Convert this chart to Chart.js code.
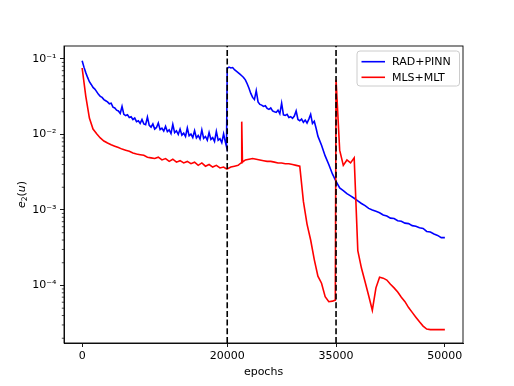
<!DOCTYPE html>
<html>
<head>
<meta charset="utf-8">
<script src="https://cdn.jsdelivr.net/npm/chart.js@4"></script>
<style>
  html, body { margin: 0; padding: 0; background: #fff; }
  canvas { display: block; }
</style>
</head>
<body>
<canvas id="error-chart" width="514" height="386"></canvas>
<script>
// RAD+PINN is logged more often (it is noisier)
const radEpochs = [
    0, 250, 500, 750, 1000, 1250, 1500, 1750, 2000, 2250, 2500, 2750, 3000, 3250, 3500, 3750, 4000, 4250, 4500, 4750,
    5000, 5250, 5500, 5750, 6000, 6250, 6500, 6750, 7000, 7250, 7500, 7750, 8000, 8250, 8500, 8750, 9000, 9250, 9500, 9750,
    10000, 10250, 10500, 10750, 11000, 11250, 11500, 11750, 12000, 12250, 12500, 12750, 13000, 13250, 13500, 13750, 14000, 14250, 14500, 14750,
    15000, 15250, 15500, 15750, 16000, 16250, 16500, 16750, 17000, 17250, 17500, 17750, 18000, 18250, 18500, 18750, 19000, 19250, 19500, 19750,
    19900,
    20000, 20250, 20500, 20750, 21000, 21250, 21500, 21750, 22000, 22250, 22500, 22750, 23000, 23250, 23500, 23750, 24000, 24250, 24500, 24750,
    25000, 25250, 25500, 25750, 26000, 26250, 26500, 26750, 27000, 27250, 27500, 27750, 28000, 28250, 28500, 28750, 29000, 29250, 29500, 29750,
    30000, 30250, 30500, 30750, 31000, 31250, 31500, 31750, 32000, 32250, 32500,
    33000, 33500, 34000, 34500, 34900,
    35000, 35500, 36000, 36500, 37000, 37500, 38000, 38500, 39000, 39500,
    40000, 40500, 41000, 41500, 42000, 42500, 43000, 43500, 44000, 44500,
    45000, 45500, 46000, 46500, 47000, 47500, 48000, 48500, 49000, 49500,
    50000
];

const radPinn = [
    0.095, 0.078, 0.066, 0.057, 0.050, 0.046, 0.042, 0.040, 0.037, 0.034, 0.032, 0.031, 0.029, 0.028, 0.027, 0.0255, 0.026, 0.023, 0.0225, 0.021,
    0.0205, 0.019, 0.0235, 0.0185, 0.0178, 0.0182, 0.0168, 0.0172, 0.0158, 0.0165, 0.0148, 0.0152, 0.0140, 0.0158, 0.0138, 0.0135, 0.0170, 0.0132, 0.0125, 0.0138,
    0.0118, 0.0124, 0.0142, 0.0116, 0.0121, 0.0111, 0.0128, 0.0109, 0.0115, 0.0103, 0.0136, 0.0106, 0.0112, 0.0100, 0.0118, 0.0098, 0.0104, 0.0094, 0.0122, 0.0096,
    0.0101, 0.0091, 0.0112, 0.0090, 0.0097, 0.0087, 0.0115, 0.0089, 0.0094, 0.0084, 0.0106, 0.0086, 0.0091, 0.0081, 0.0110, 0.0084, 0.0088, 0.0078, 0.0102, 0.0079,
    0.0069,
    0.075, 0.078, 0.076, 0.077, 0.072, 0.069, 0.066, 0.063, 0.060, 0.057, 0.053, 0.047, 0.041, 0.035, 0.031, 0.029, 0.038, 0.027, 0.025, 0.0245,
    0.0235, 0.024, 0.0222, 0.0215, 0.0225, 0.0205, 0.020, 0.0196, 0.021, 0.0188, 0.026, 0.0182, 0.0179, 0.0185, 0.0168, 0.0172, 0.0164, 0.0175, 0.0205, 0.0158,
    0.0152, 0.0160, 0.0145, 0.0155, 0.0142, 0.0160, 0.0185, 0.0140, 0.0150, 0.0121, 0.0095,
    0.0072, 0.0052, 0.0040, 0.0030, 0.0025,
    0.0024, 0.00196, 0.00181, 0.00165, 0.00154, 0.00143, 0.00132, 0.00122, 0.00114, 0.00105,
    0.00100, 0.00096, 0.00092, 0.00086, 0.00083, 0.00078, 0.00077, 0.00072, 0.00071, 0.00067,
    0.00066, 0.00062, 0.00061, 0.00058, 0.00057, 0.00052, 0.00051, 0.00048, 0.00046, 0.00043,
    0.00043
];

const mlsEpochs = [
    0, 500, 1000, 1500, 2000, 2500, 3000, 3500, 4000, 4500,
    5000, 5500, 6000, 6500, 7000, 7500, 8000, 8500, 9000, 9500,
    10000, 10500, 11000, 11500, 12000, 12500, 13000, 13500, 14000, 14500,
    15000, 15500, 16000, 16500, 17000, 17500, 18000, 18500, 19000, 19500,
    19900, 20000, 20500, 21000, 21500, 21900, 22000, 22100,
    22500, 23000, 23500, 24000, 24500, 25000, 25500, 26000, 26500, 27000,
    27500, 28000, 28500, 29000, 29500, 30000, 30500, 31000, 31500, 32000,
    32500, 33000, 33500, 34000, 34500, 34900,
    35000, 35500, 36000, 36500, 37000, 37500, 38000, 38500, 39000, 39500,
    40000, 40500, 41000, 41500, 42000, 42500, 43000, 43500, 44000, 44500,
    45000, 45500, 46000, 46500, 47000, 47500, 48000, 48500, 49000, 49500,
    50000
];

const mlsMlt = [
    0.076, 0.0323, 0.0165, 0.0118, 0.0102, 0.0090, 0.0082, 0.0077, 0.0073, 0.0070,
    0.0067, 0.0064, 0.0062, 0.0060, 0.0057, 0.0055, 0.0054, 0.0053, 0.0050, 0.0049,
    0.0048, 0.0050, 0.0046, 0.0048, 0.0044, 0.0047, 0.0043, 0.0045, 0.0042, 0.0044,
    0.0041, 0.0043, 0.0039, 0.0042, 0.0038, 0.0040, 0.0037, 0.0039, 0.0036, 0.0037,
    0.0035, 0.0035, 0.0037, 0.0038, 0.0039, 0.0042, 0.0148, 0.0043,
    0.0046, 0.0047, 0.0048, 0.0047, 0.0046, 0.0045, 0.0044, 0.0044, 0.0043, 0.0042,
    0.0042, 0.0041, 0.0041, 0.0040, 0.0039, 0.0038, 0.0013, 0.00065, 0.00040, 0.00022,
    0.000133, 0.000107, 0.000071, 0.000061, 0.000062, 0.000064,
    0.053, 0.0062, 0.0039, 0.0046, 0.0042, 0.0049, 0.00029, 0.00017, 0.000112, 0.000073,
    0.000047, 0.000093, 0.000129, 0.000125, 0.000118, 0.000104, 0.000093, 0.000082, 0.000070, 0.000061,
    0.000051, 0.000044, 0.000038, 0.000033, 0.000029, 0.0000265, 0.000026, 0.000026, 0.000026, 0.000026,
    0.000026
];

const seriesLabels = ['RAD+PINN', 'MLS+MLT'];
const xTicks = [0, 20000, 35000, 50000];
const stageBreaks = [20000, 35000];
const yDecades = [-5, -4, -3, -2, -1];

const xMin = -2500, xMax = 52500;
const yMin = 1.73e-5, yMax = 0.1486;

Chart.defaults.font.family = 'DejaVu Sans';
Chart.defaults.font.size = 11;
Chart.defaults.color = '#000';

const supDigits = { '-': '\u207B', '0': '\u2070', '1': '\u00B9', '2': '\u00B2', '3': '\u00B3', '4': '\u2074', '5': '\u2075' };
function powerLabel(v) {
    const e = String(Math.round(Math.log10(v)));
    return '10' + e.split('').map(c => supDigits[c]).join('');
}

function toPoints(xs, values) {
    return values.map((v, i) => ({ x: xs[i], y: v }));
}

const vlineSets = stageBreaks.map(b => ({
    data: [{ x: b, y: yMin }, { x: b, y: yMax }],
    borderColor: '#000',
    borderWidth: 1.6,
    borderDash: [6, 2.7],
    pointRadius: 0,
    order: 1
}));

// axis frame, minor ticks, axis titles and legend
const decorations = {
    id: 'decorations',
    afterDraw(chart) {
        const { ctx, chartArea: a, scales } = chart;
        ctx.save();

        ctx.strokeStyle = '#000';
        ctx.lineWidth = 0.9;
        ctx.strokeRect(a.left, a.top, a.right - a.left, a.bottom - a.top);

        ctx.lineWidth = 0.7;
        yDecades.forEach(e => {
            for (let m = 2; m <= 9; m++) {
                const v = m * Math.pow(10, e);
                if (v < yMin || v > yMax) continue;
                const py = scales.y.getPixelForValue(v);
                ctx.beginPath();
                ctx.moveTo(a.left, py);
                ctx.lineTo(a.left - 2.2, py);
                ctx.stroke();
            }
        });

        ctx.fillStyle = '#000';
        ctx.font = '11px "DejaVu Sans"';
        ctx.textAlign = 'center';
        ctx.textBaseline = 'alphabetic';
        ctx.fillText('epochs', (a.left + a.right) / 2, 374.5);

        // e_2(u), rotated
        ctx.save();
        ctx.translate(24.5, (a.top + a.bottom) / 2);
        ctx.rotate(-Math.PI / 2);
        ctx.textAlign = 'left';
        const parts = [
            { t: 'e', f: 'italic 11px "DejaVu Sans"', dy: 0 },
            { t: '2', f: '7.7px "DejaVu Sans"', dy: 2.2 },
            { t: '(', f: '11px "DejaVu Sans"', dy: 0 },
            { t: 'u', f: 'italic 11px "DejaVu Sans"', dy: 0 },
            { t: ')', f: '11px "DejaVu Sans"', dy: 0 }
        ];
        let total = 0;
        parts.forEach(p => { ctx.font = p.f; p.w = ctx.measureText(p.t).width; total += p.w; });
        let px = -total / 2;
        parts.forEach(p => {
            ctx.font = p.f;
            ctx.fillText(p.t, px, p.dy);
            px += p.w;
        });
        ctx.restore();

        // legend
        const lx = 357, ly = 51, lw = 102.5, lh = 35;
        ctx.beginPath();
        ctx.roundRect(lx, ly, lw, lh, 3);
        ctx.fillStyle = 'rgba(255,255,255,0.8)';
        ctx.fill();
        ctx.strokeStyle = '#cccccc';
        ctx.lineWidth = 1;
        ctx.stroke();

        ctx.font = '11px "DejaVu Sans"';
        ctx.textAlign = 'left';
        ctx.textBaseline = 'middle';
        const rows = [61.7, 77.3];
        seriesLabels.forEach((label, i) => {
            const ds = chart.data.datasets.find(d => d.label === label);
            ctx.strokeStyle = ds.borderColor;
            ctx.lineWidth = 1.6;
            ctx.beginPath();
            ctx.moveTo(361.5, rows[i]);
            ctx.lineTo(385, rows[i]);
            ctx.stroke();
            ctx.fillStyle = '#000';
            ctx.fillText(label, 392, rows[i] + 0.5);
        });

        ctx.restore();
    }
};

new Chart(document.getElementById('error-chart').getContext('2d'), {
    type: 'line',
    data: {
        datasets: [
            {
                label: seriesLabels[0],
                data: toPoints(radEpochs, radPinn),
                borderColor: '#0000ff',
                borderWidth: 1.6,
                pointRadius: 0,
                order: 3
            },
            {
                label: seriesLabels[1],
                data: toPoints(mlsEpochs, mlsMlt),
                borderColor: '#ff0000',
                borderWidth: 1.6,
                pointRadius: 0,
                order: 2
            },
            ...vlineSets
        ]
    },
    options: {
        responsive: false,
        animation: false,
        layout: { padding: { left: 0, right: 51, top: 46, bottom: 0 } },
        plugins: {
            legend: { display: false },
            tooltip: { enabled: false }
        },
        scales: {
            x: {
                type: 'linear',
                min: xMin,
                max: xMax,
                afterBuildTicks: scale => { scale.ticks = xTicks.map(v => ({ value: v })); },
                afterFit: scale => { scale.height = 43; },
                ticks: {
                    autoSkip: false,
                    maxRotation: 0,
                    padding: 2.5,
                    color: '#000',
                    callback: v => String(v)
                },
                grid: {
                    drawOnChartArea: false,
                    tickLength: 4,
                    tickColor: '#000',
                    tickWidth: 0.9
                },
                border: { color: '#000', width: 0.9 }
            },
            y: {
                type: 'logarithmic',
                min: yMin,
                max: yMax,
                afterBuildTicks: scale => {
                    scale.ticks = yDecades
                        .map(e => Math.pow(10, e))
                        .filter(v => v >= yMin && v <= yMax)
                        .map(v => ({ value: v }));
                },
                afterFit: scale => { scale.width = 64; },
                ticks: {
                    autoSkip: false,
                    padding: 3.5,
                    color: '#000',
                    callback: v => powerLabel(v)
                },
                grid: {
                    drawOnChartArea: false,
                    tickLength: 4,
                    tickColor: '#000',
                    tickWidth: 0.9
                },
                border: { color: '#000', width: 0.9 }
            }
        }
    },
    plugins: [decorations]
});
</script>
</body>
</html>
